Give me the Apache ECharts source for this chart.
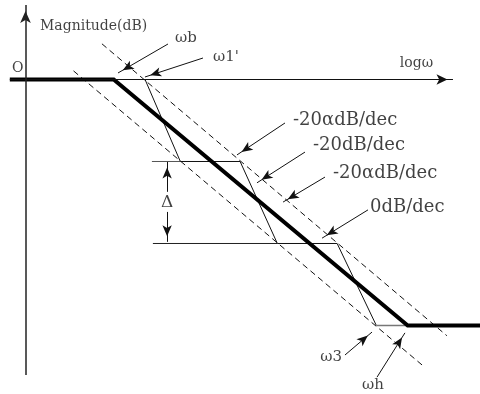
<!DOCTYPE html>
<html>
<head>
<meta charset="utf-8">
<script src="https://cdn.jsdelivr.net/npm/echarts@6/dist/echarts.min.js"></script>
<style>
  html, body { margin: 0; padding: 0; background: #fff; }
  #main { width: 480px; height: 394px; }
</style>
</head>
<body>
<div id="main"></div>
<script>
// x: log(omega) in decades, y: magnitude in dB

// axes drawn as arrows
var xAxisLine = [[-0.16, 0], [4.362, 0]];
var yAxisLine = [[0, -72.07], [0, 18.17]];
// asymptotic magnitude (thick)
var asymptote = [[-0.16, 0], [0.9, 0], [3.9, -60], [4.66, -60]];
// dashed bounds
var upperBound = [[0.78, 8.7], [4.3, -62.5]];
var lowerBound = [[0.49, 2.1], [4.06, -69.9]];
// stepped approximation
var steps = [[1.22, 0], [1.58, -20], [2.19, -20], [2.57, -40], [3.18, -40], [3.58, -60]];
var stepTail = [[3.58, -60], [3.9, -60]];
// extension lines for delta
var guideTop = [[1.29, -20], [1.58, -20]];
var guideBottom = [[1.30, -40], [2.57, -40]];

// pointers: [from, to]
var pointers = [
  [[1.454, 8.66], [0.944, 1.59]],
  [[1.811, 5.24], [1.219, 0.61]],
  [[2.648, -10.6], [2.158, -18.4]],
  [[2.852, -17.7], [2.362, -25.2]],
  [[3.056, -23.8], [2.628, -29.9]],
  [[3.495, -31.8], [3.026, -38.7]],
  [[3.26, -67.2], [3.536, -61.6]],
  [[3.587, -72.6], [3.872, -61.8]]
];
var deltaArrows = [
  [[1.445, -27.4], [1.445, -20.1]],
  [[1.445, -32.3], [1.445, -39.6]]
];

// texts [x, y, text]
var axisTexts = [[-0.138, 2.6, 'O'], [0.148, 13.05, 'Magnitude(dB)'], [3.82, 4.0, 'logω']];
var freqTexts = [[1.526, 10.1, 'ωb'], [1.913, 5.5, "ω1'"], [3.434, -74.5, 'ωh']];
var freqTextsRight = [[3.23, -67.7, 'ω3']];
var slopeTexts = [
  [2.73, -9.88, '-20αdB/dec'],
  [2.934, -15.98, '-20dB/dec'],
  [3.138, -22.8, '-20αdB/dec'],
  [3.515, -31.1, '0dB/dec']
];
var deltaText = [[1.445, -29.9, 'Δ']];

var FONT = 'DejaVu Serif';

function lineSeries(data, style) {
  return {
    type: 'line', data: data, symbol: 'none', clip: false, silent: true,
    lineStyle: style
  };
}
function textSeries(data, size, pos) {
  return {
    type: 'scatter', data: data, symbolSize: 0, clip: false, silent: true,
    label: {
      show: true, position: pos, distance: 0,
      formatter: function (p) { return p.value[2]; },
      fontFamily: FONT, fontSize: size, color: '#111'
    }
  };
}
function arrowSeries(list, size, style) {
  return {
    type: 'line', data: [], clip: false, silent: true,
    markLine: {
      silent: true, symbol: ['none', 'arrow'], symbolSize: size,
      symbolOffset: [0, [0, size[1] / 2]],
      label: { show: false },
      lineStyle: style || { color: '#111', width: 1, type: 'solid' },
      emphasis: { disabled: true },
      data: list.map(function (p) { return [{ coord: p[0] }, { coord: p[1] }]; })
    }
  };
}

var chart = echarts.init(document.getElementById('main'));
chart.setOption({
  animation: false,
  grid: { left: 0, right: 0, top: 0, bottom: 0 },
  xAxis: { type: 'value', min: -0.2602, max: 4.6378, show: false },
  yAxis: { type: 'value', min: -76.71, max: 19.39, show: false },
  series: [
    arrowSeries([xAxisLine], [8, 11], { color: '#111', width: 1, type: 'solid' }),
    arrowSeries([yAxisLine], [8, 12], { color: '#222', width: 1.5, type: 'solid' }),
    lineSeries(upperBound, { color: '#111', width: 1, type: [6, 4] }),
    lineSeries(lowerBound, { color: '#111', width: 1, type: [6, 4] }),
    lineSeries(guideTop, { color: '#555', width: 1 }),
    lineSeries(guideBottom, { color: '#222', width: 1 }),
    lineSeries(steps, { color: '#111', width: 1 }),
    lineSeries(stepTail, { color: '#777', width: 1.5 }),
    lineSeries(asymptote, { color: '#000', width: 4, join: 'miter' }),
    arrowSeries(pointers, [7, 11]),
    arrowSeries(deltaArrows, [7, 11]),
    textSeries(axisTexts, 14, 'right'),
    textSeries(freqTexts, 15, 'right'),
    textSeries(freqTextsRight, 15, 'left'),
    textSeries(slopeTexts, 18, 'right'),
    textSeries(deltaText, 17, 'inside')
  ]
});
</script>
</body>
</html>
